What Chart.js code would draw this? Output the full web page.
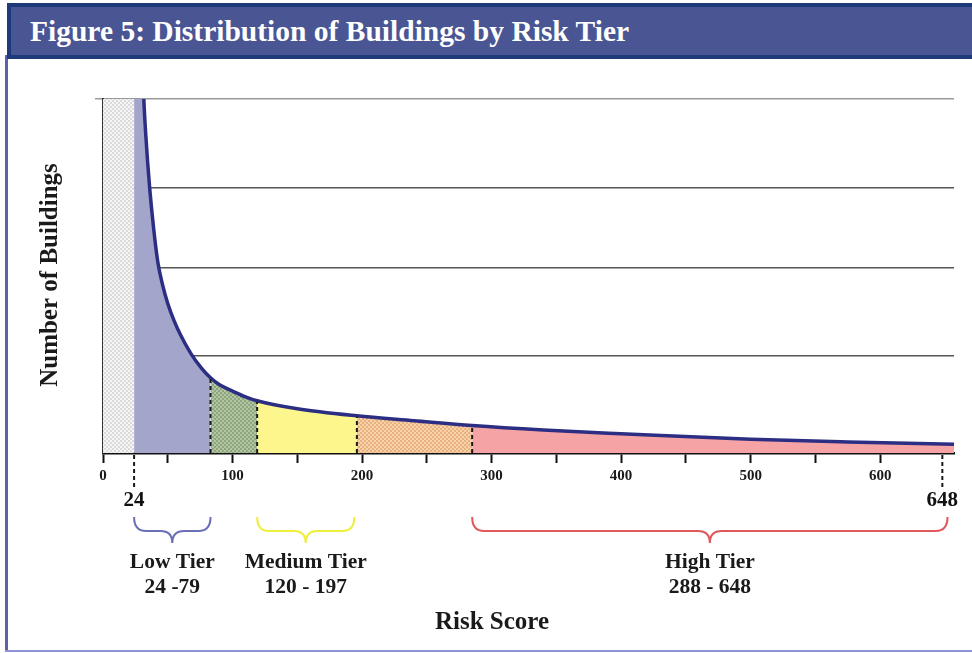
<!DOCTYPE html>
<html>
<head>
<meta charset="utf-8">
<script src="https://cdn.jsdelivr.net/npm/chart.js@4.4.1/dist/chart.umd.min.js"></script>
<style>
  html, body { margin: 0; padding: 0; background: #fff; }
  #wrap { position: relative; width: 972px; height: 653px; overflow: hidden; }
  #bar {
    position: absolute; left: 7px; top: 3px; width: 972px; height: 48px;
    background: #4a5693; border: 4px solid #1d3a7b; border-right: none;
    color: #fff; font: bold 29.5px "Liberation Serif", "Times New Roman", serif;
    line-height: 48px; padding-left: 19px; box-sizing: content-box; z-index: 2;
  }
  #frameL { position: absolute; left: 5px; top: 55px; width: 3px; height: 597px; background: #5b61ad; z-index: 1; }
  #frameB { position: absolute; left: 5px; top: 650px; width: 967px; height: 2px; background: #8f93d6; z-index: 1; }
  canvas { position: absolute; left: 0; top: 0; }
</style>
</head>
<body>
<div id="wrap">
  <div id="bar">Figure 5: Distribution of Buildings by Risk Tier</div>
  <div id="frameL"></div>
  <div id="frameB"></div>
  <canvas id="c" width="972" height="653"></canvas>
</div>
<script>
// ---- data ----
const curveX = [24, 27, 30, 31.5, 33, 36, 39, 42.4, 46, 50, 55, 60, 68, 76, 83, 90, 100, 110, 119, 150, 196, 240, 285, 340, 400, 500, 575, 657];
const curveY = [9, 6.0, 4.6, 4.0, 3.6, 3.0, 2.55, 2.15, 1.90, 1.69, 1.49, 1.33, 1.12, 0.96, 0.85, 0.77, 0.70, 0.635, 0.59, 0.50, 0.42, 0.365, 0.31, 0.26, 0.218, 0.155, 0.124, 0.098];
const regionBounds = [0, 24, 83, 119, 196, 285, 657];
const xTickValues = [0, 50, 100, 150, 200, 250, 300, 350, 400, 450, 500, 550, 600];
const yGridValues = [0, 1.1, 2.09, 3.0, 4.0];
const markerValues = [24, 648];
const tierNames = ['Low Tier', 'Medium Tier', 'High Tier'];
const tierRanges = ['24 -79', '120 - 197', '288 - 648'];
const braceStart = [24, 119, 285];
const braceEnd = [83, 194, 652];
const braceColors = ['#6b6fb5', '#f0ee3c', '#e0585a'];

function hatch(base, dot) {
  const c = document.createElement('canvas');
  c.width = c.height = 4;
  const g = c.getContext('2d');
  g.fillStyle = base; g.fillRect(0, 0, 4, 4);
  g.fillStyle = dot; g.fillRect(0, 0, 2, 2); g.fillRect(2, 2, 2, 2);
  return g.createPattern(c, 'repeat');
}
const regionFills = [
  hatch('#f6f6f6', '#dadada'),
  '#a3a5cb',
  hatch('#b3c6a3', '#8ea57e'),
  '#fdf68c',
  hatch('#f8d2a8', '#e9b080'),
  '#f5a3a5'
];

const curvePts = curveX.map((x, i) => ({ x, y: curveY[i] }));
const yMax = yGridValues[yGridValues.length - 1];
const regionSets = regionFills.map((fillColor, r) => {
  const a = regionBounds[r], b = regionBounds[r + 1];
  const pts = r === 0 ? [{ x: a, y: yMax }, { x: b, y: yMax }]
                      : curvePts.filter(p => p.x >= a && p.x <= b);
  return {
    data: pts, fill: 'origin', backgroundColor: fillColor,
    borderWidth: 0, pointRadius: 0, cubicInterpolationMode: 'monotone'
  };
});

const SERIF = '"Liberation Serif", "Times New Roman", serif';

const decor = {
  id: 'decor',
  afterDatasetsDraw(chart) {
    const { ctx, scales: { x, y } } = chart;
    const y0 = y.getPixelForValue(0);
    ctx.save();
    ctx.setLineDash([4, 3]);
    ctx.strokeStyle = '#1a1a1a';
    ctx.lineWidth = 2;
    regionBounds.slice(2, -1).forEach(v => {
      const i = curveX.indexOf(v);
      const px = x.getPixelForValue(v);
      const py = y.getPixelForValue(curveY[i]);
      ctx.beginPath(); ctx.moveTo(px, y0); ctx.lineTo(px, py + 1); ctx.stroke();
    });
    ctx.restore();
  },
  afterDraw(chart) {
    const { ctx, scales: { x, y } } = chart;
    const y0 = y.getPixelForValue(0);
    ctx.save();
    ctx.setLineDash([4, 3]);
    ctx.strokeStyle = '#1a1a1a';
    ctx.lineWidth = 2;
    ctx.fillStyle = '#111';
    ctx.font = 'bold 21px ' + SERIF;
    ctx.textAlign = 'center';
    ctx.textBaseline = 'alphabetic';
    markerValues.forEach(v => {
      const px = x.getPixelForValue(v);
      ctx.beginPath(); ctx.moveTo(px, y0 + 2); ctx.lineTo(px, y0 + 35); ctx.stroke();
      ctx.fillText(String(v), px, y0 + 53);
    });
    ctx.setLineDash([]);
    const top = 517, mid = 531, cusp = 543, r = 12;
    braceStart.forEach((s, i) => {
      const x1 = x.getPixelForValue(s), x2 = x.getPixelForValue(braceEnd[i]);
      const xc = (x1 + x2) / 2;
      ctx.strokeStyle = braceColors[i];
      ctx.lineWidth = 2;
      ctx.beginPath();
      ctx.moveTo(x1, top);
      ctx.quadraticCurveTo(x1, mid, x1 + r, mid);
      ctx.lineTo(xc - r, mid);
      ctx.quadraticCurveTo(xc, mid, xc, cusp);
      ctx.quadraticCurveTo(xc, mid, xc + r, mid);
      ctx.lineTo(x2 - r, mid);
      ctx.quadraticCurveTo(x2, mid, x2, top);
      ctx.stroke();
      ctx.fillStyle = '#1a1a1a';
      ctx.font = 'bold 21.5px ' + SERIF;
      ctx.fillText(tierNames[i], xc, 568);
      ctx.fillText(tierRanges[i], xc, 593);
    });
    ctx.font = 'bold 25px ' + SERIF;
    ctx.fillText('Risk Score', 492, 629);
    ctx.translate(57, 275);
    ctx.rotate(-Math.PI / 2);
    ctx.font = 'bold 25px ' + SERIF;
    ctx.fillText('Number of Buildings', 0, 0);
    ctx.restore();
  }
};

new Chart(document.getElementById('c'), {
  type: 'line',
  data: {
    datasets: [
      { data: curvePts, borderColor: '#2b2e82', borderWidth: 3.5, fill: false,
        pointRadius: 0, cubicInterpolationMode: 'monotone' },
      ...regionSets
    ]
  },
  options: {
    responsive: false,
    animation: false,
    events: [],
    layout: { padding: { left: 0, top: 99, right: 18, bottom: 0 } },
    plugins: { legend: { display: false }, tooltip: { enabled: false }, title: { display: false } },
    scales: {
      x: {
        type: 'linear', min: 0, max: 657,
        afterBuildTicks: s => { s.ticks = xTickValues.map(v => ({ value: v })); },
        afterFit: s => { s.height = 200; },
        ticks: {
          autoSkip: false, maxRotation: 0, padding: 4, color: '#1a1a1a',
          font: { family: SERIF, weight: 'bold', size: 15 },
          callback: v => (v % 100 === 0 ? String(v) : '')
        },
        grid: { drawOnChartArea: false, drawTicks: true, tickLength: 10, tickColor: '#111', tickWidth: 2 },
        border: { color: '#111', width: 2.5 }
      },
      y: {
        type: 'linear', min: 0, max: yMax,
        afterBuildTicks: s => { s.ticks = yGridValues.map(v => ({ value: v })); },
        afterFit: s => { s.width = 103; },
        ticks: { display: false },
        grid: {
          color: c => (c.tick && c.tick.value === yMax ? '#9a9a9a' : '#555'),
          lineWidth: 1.5, drawTicks: true, tickLength: 8,
          tickColor: c => (c.tick && c.tick.value === yMax ? '#9a9a9a' : 'rgba(0,0,0,0)')
        },
        border: { color: '#333', width: 2 }
      }
    }
  },
  plugins: [decor]
});
</script>
</body>
</html>
